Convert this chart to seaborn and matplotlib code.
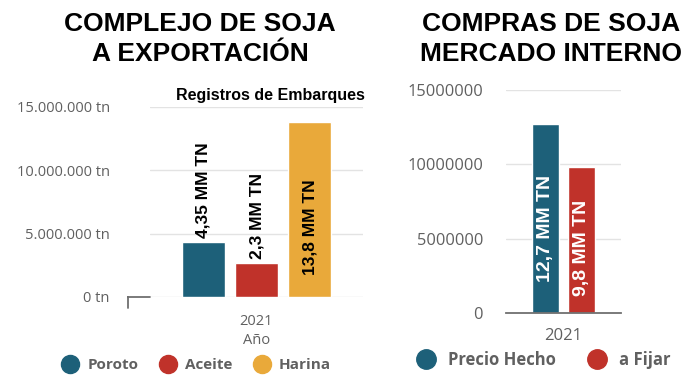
import numpy as np
import pandas as pd
import matplotlib.pyplot as plt
import seaborn as sns
from matplotlib.lines import Line2D
from matplotlib.ticker import FuncFormatter

# datos
anio = ["2021"]
productos = ["Poroto", "Aceite", "Harina"]
export_tn = [4350000, 2700000, 13800000]
export_txt = ["4,35 MM TN", "2,3 MM TN", "13,8 MM TN"]
tipos = ["Precio Hecho", "a Fijar"]
compras_tn = [12700000, 9800000]
compras_txt = ["12,7 MM TN", "9,8 MM TN"]
yticks = [0, 5000000, 10000000, 15000000]

azul, rojo, naranja = "#1d6079", "#c0322a", "#e9a93a"
gris = "#606060"
grid = "#e3e3e3"

sns.set_style("white")
plt.rcParams["font.family"] = ["Open Sans", "DejaVu Sans"]
plt.rcParams["text.color"] = "black"
bold = "Liberation Sans"

W, H = 698, 378
fig = plt.figure(figsize=(W / 100, H / 100), dpi=100)


def box(x0, x1, ytop, ybot):
    return [x0 / W, 1 - ybot / H, (x1 - x0) / W, (ybot - ytop) / H]


# ---------- exportación ----------
df1 = pd.DataFrame({"anio": anio * 3, "producto": productos, "tn": export_tn})
ax1 = fig.add_axes(box(150, 363, 107, 297))
sns.barplot(data=df1, x="anio", y="tn", hue="producto", hue_order=productos,
            palette=[azul, rojo, naranja], width=0.75, gap=0.2, saturation=1,
            legend=False, ax=ax1)
ax1.set_xlim(-0.5, 0.5)
ax1.set_ylim(0, 15000000)
ax1.set_yticks(yticks)
ax1.yaxis.set_major_formatter(FuncFormatter(lambda v, p: f"{v:,.0f}".replace(",", ".") + " tn"))
ax1.grid(axis="y", color=grid, lw=1)
ax1.set_axisbelow(True)
sns.despine(ax=ax1, left=True, bottom=True)
ax1.tick_params(axis="y", length=0, pad=29, labelsize=10.5, labelcolor=gris)
ax1.tick_params(axis="x", length=0, pad=12, labelsize=10.5, labelcolor=gris)
ax1.set_xlabel("Año", fontsize=10.5, color=gris, labelpad=3)
ax1.set_ylabel("")
# trozo de eje a la izquierda
ax1.plot([-0.103, 0, np.nan, -0.103, -0.103], [0, 0, np.nan, 0, -0.058],
         transform=ax1.transAxes, color="#707070", lw=1.3, clip_on=False)

ymax = max(export_tn)
for bar, txt in zip(ax1.patches, export_txt):
    h = bar.get_height()
    xc = bar.get_x() + bar.get_width() / 2
    if h > 0.5 * ymax:
        ax1.text(xc, h * 0.4, txt, rotation=90, ha="center", va="center",
                 fontsize=12.5, fontweight="bold", family=bold, color="black")
    else:
        ax1.annotate(txt, (xc, h), xytext=(0, 2.5), textcoords="offset points",
                     rotation=90, ha="center", va="bottom",
                     fontsize=12.5, fontweight="bold", family=bold, color="black")

ax1.text(1.01, 1.06, "Registros de Embarques", transform=ax1.transAxes,
         ha="right", va="center", fontsize=11.5, fontweight="bold", family=bold)

fig.text(200 / W, 1 - 39 / H, "COMPLEJO DE SOJA\nA EXPORTACIÓN", ha="center", va="center",
         fontsize=19, fontweight="bold", family=bold, linespacing=1.32, color="black")

h1 = [Line2D([], [], marker="o", ls="", ms=13, color=c) for c in [azul, rojo, naranja]]
leg1 = fig.legend(h1, productos, loc="center", bbox_to_anchor=(196 / W, 1 - 365 / H),
                  ncol=3, frameon=False, handletextpad=0.55, columnspacing=1.3,
                  handlelength=1.2, prop={"weight": "bold", "size": 11})
for t in leg1.get_texts():
    t.set_color(gris)

# ---------- mercado interno ----------
df2 = pd.DataFrame({"anio": anio * 2, "tipo": tipos, "tn": compras_tn})
ax2 = fig.add_axes(box(506, 621, 90, 313))
sns.barplot(data=df2, x="anio", y="tn", hue="tipo", hue_order=tipos,
            palette=[azul, rojo], width=0.63, gap=0.25, saturation=1,
            legend=False, ax=ax2)
ax2.set_xlim(-0.5, 0.5)
ax2.set_ylim(0, 15000000)
ax2.set_yticks(yticks)
ax2.yaxis.set_major_formatter(FuncFormatter(lambda v, p: f"{v:.0f}"))
ax2.grid(axis="y", color=grid, lw=1)
ax2.set_axisbelow(True)
sns.despine(ax=ax2, left=True)
ax2.spines["bottom"].set_color("#707070")
ax2.spines["bottom"].set_linewidth(1.3)
ax2.set_xticks([-0.5, 0.5], minor=True)
ax2.tick_params(axis="x", which="minor", length=12, width=1.3, color="#707070")
ax2.tick_params(axis="x", which="major", length=0, pad=11, labelsize=12, labelcolor=gris)
ax2.tick_params(axis="y", length=0, pad=16.5, labelsize=11.8, labelcolor=gris)
ax2.set_xlabel("")
ax2.set_ylabel("")

for bar, txt in zip(ax2.patches, compras_txt):
    h = bar.get_height()
    xc = bar.get_x() + bar.get_width() / 2
    ax2.text(xc, h * 0.45, txt, rotation=90, ha="center", va="center",
             fontsize=14, fontweight="bold", family=bold, color="white")

fig.text(551 / W, 1 - 39 / H, "COMPRAS DE SOJA\nMERCADO INTERNO", ha="center", va="center",
         fontsize=19, fontweight="bold", family=bold, linespacing=1.32, color="black")

h2 = [Line2D([], [], marker="o", ls="", ms=14, color=c) for c in [azul, rojo]]
leg2 = fig.legend(h2, tipos, loc="center", bbox_to_anchor=(540 / W, 1 - 360 / H),
                  ncol=2, frameon=False, handletextpad=0.3, columnspacing=1.5,
                  prop={"weight": "bold", "size": 12})
for t in leg2.get_texts():
    t.set_color(gris)

fig.savefig("out.png", dpi=100)
